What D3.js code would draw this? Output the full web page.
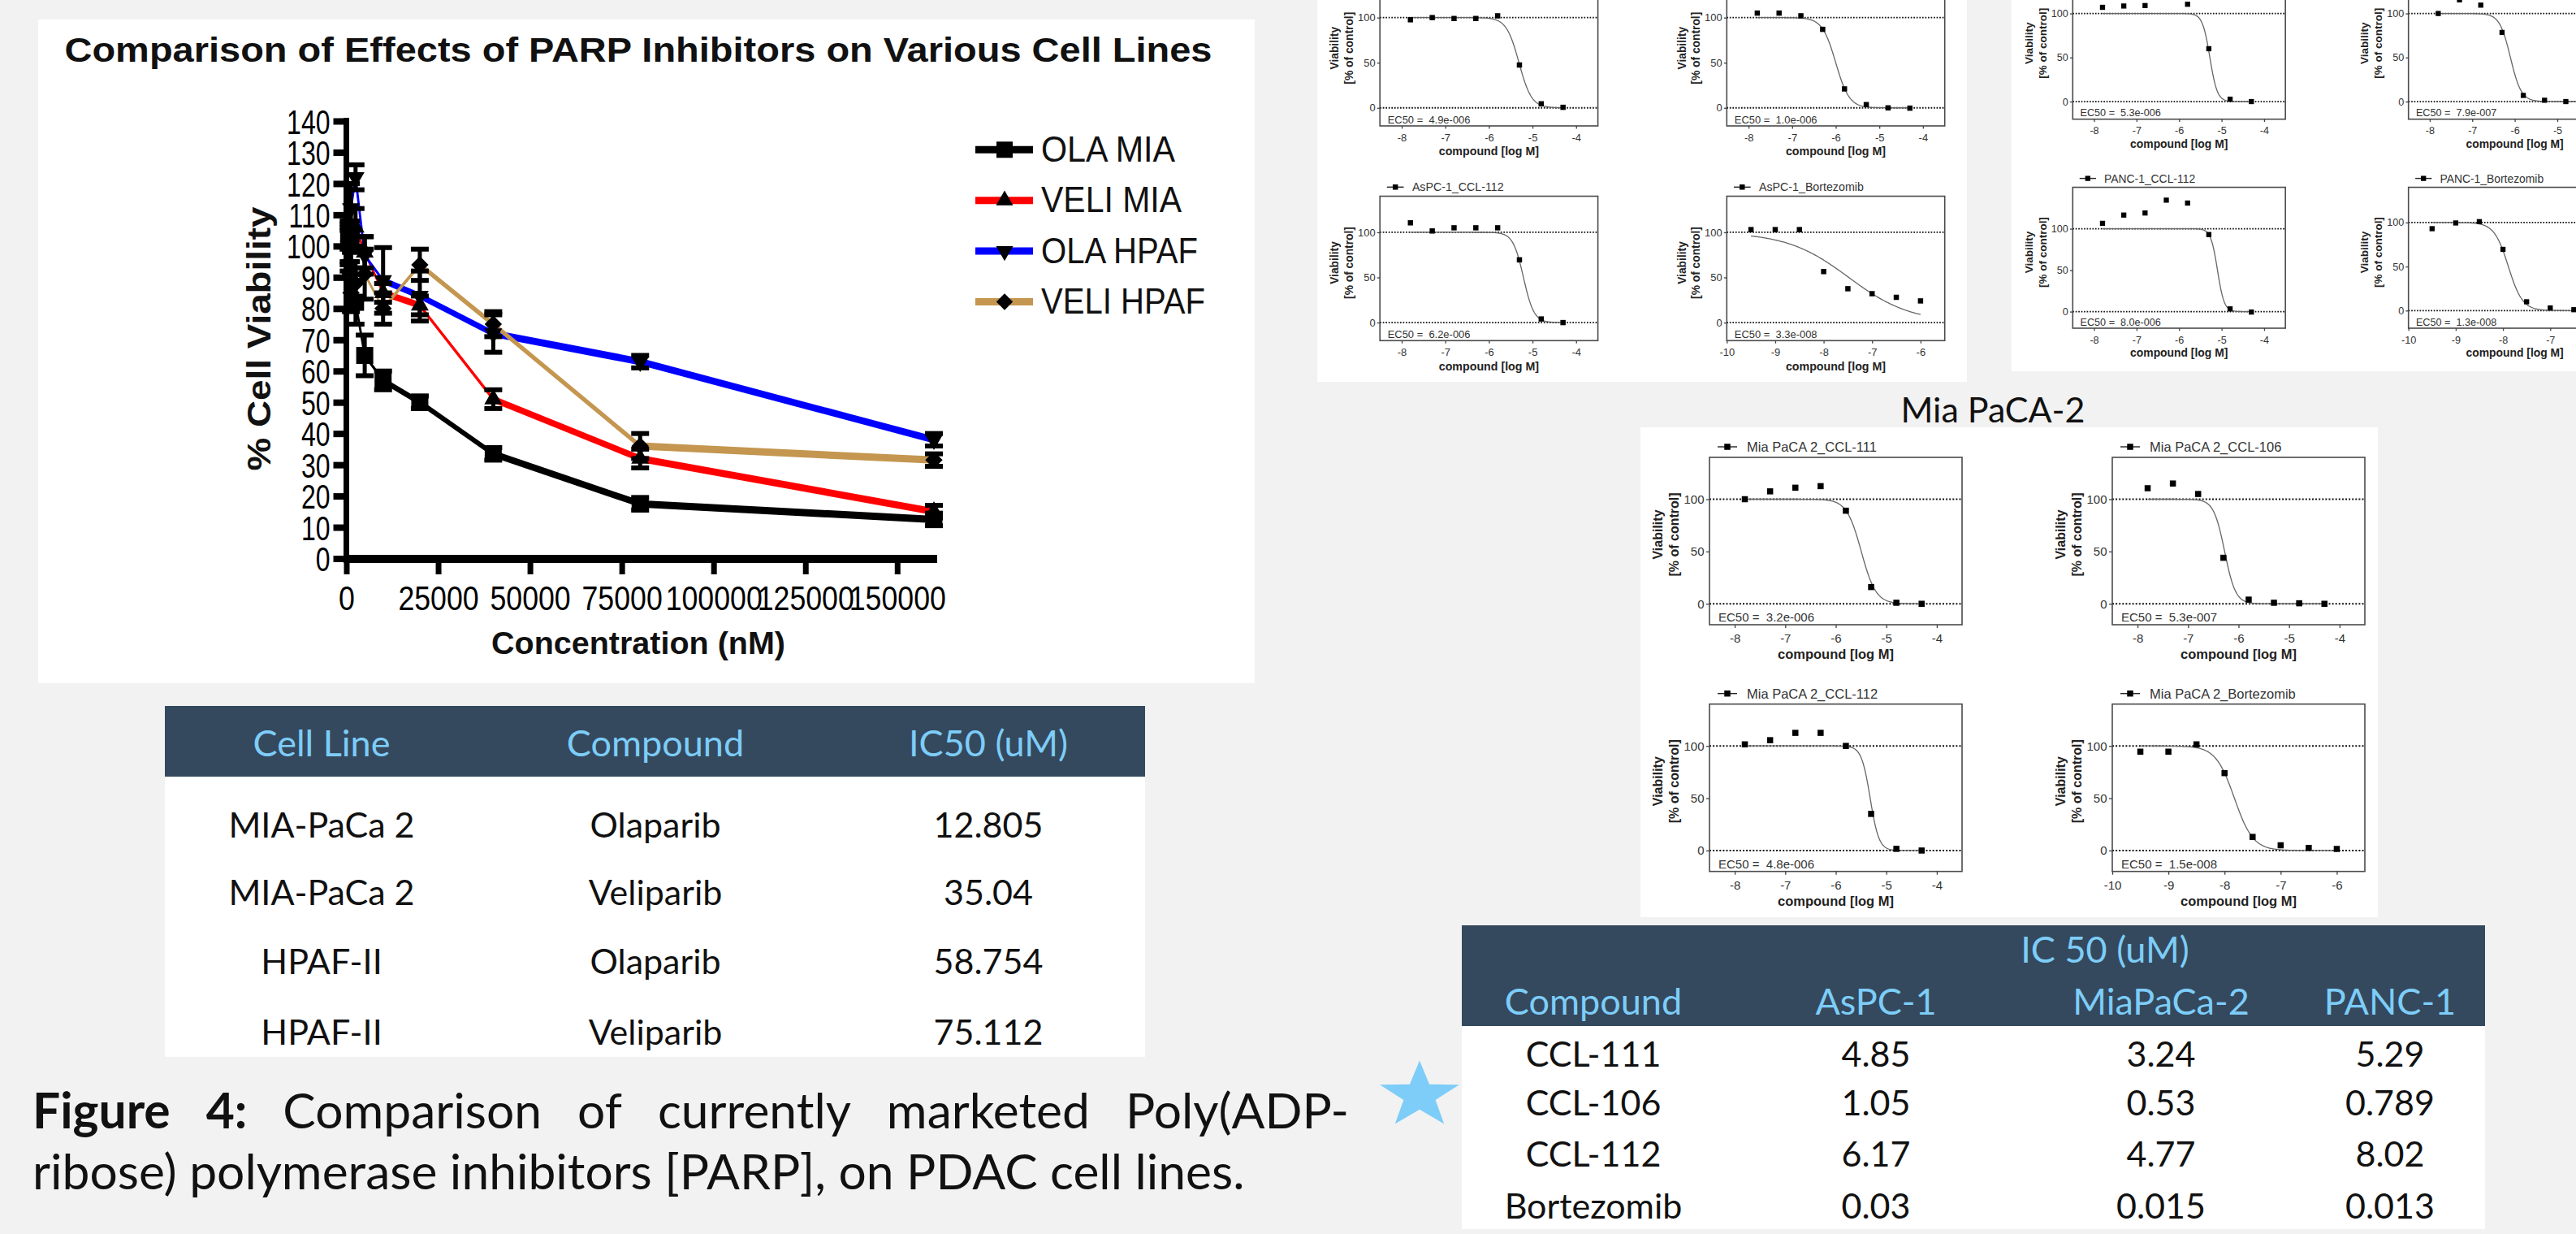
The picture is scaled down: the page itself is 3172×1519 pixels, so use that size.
<!DOCTYPE html>
<html><head><meta charset="utf-8">
<script src="https://cdn.jsdelivr.net/npm/d3@7"></script>
<style>html,body{margin:0;padding:0;background:#f2f2f2;}svg{display:block}</style>
</head><body>
<svg id="c" width="3172" height="1519"></svg>
<script>
// ================= DATA =================
// Left chart: % cell viability vs concentration (nM)
const chartTitle = "Comparison of Effects of PARP Inhibitors on Various Cell Lines";
const concentrations = [625, 1250, 2500, 5000, 10000, 20000, 40000, 80000, 160000];
const olaMIA   = [103, 100, 82, 65, 57, 50, 33.5, 17.5, 12.5];
const veliMIA  = [100, 103, 106, 98, 85, 81, 51, 32, 15];
const olaHPAF  = [100, 112, 122, 97, 89, 84, 72, 63, 38];
const veliHPAF = [100, 85, 88, 91, 80, 94, 75, 36, 31.5];
const olaMIAErr   = [4, 5, 7, 6.5, 3, 2, 2, 2, 2];
const veliMIAErr  = [5, 5, 6, 5, 3, 3, 3, 3, 2];
const olaHPAFErr  = [6, 8, 4, 6, 10.5, 8, 6, 2, 2];
const veliHPAFErr = [8, 6, 5, 8, 5, 5, 4, 4, 2];
const seriesNames = ["OLA MIA", "VELI MIA", "OLA HPAF", "VELI HPAF"];
const yTickValues = [0,10,20,30,40,50,60,70,80,90,100,110,120,130,140];
const xTickValues = [0, 25000, 50000, 75000, 100000, 125000, 150000];

// Left table
const t1Headers = ["Cell Line", "Compound", "IC50 (uM)"];
const t1CellLines = ["MIA-PaCa 2", "MIA-PaCa 2", "HPAF-II", "HPAF-II"];
const t1Compounds = ["Olaparib", "Veliparib", "Olaparib", "Veliparib"];
const t1IC50 = [12.805, 35.04, 58.754, 75.112];

// Right table
const t2Title = "IC 50 (uM)";
const t2Headers = ["Compound", "AsPC-1", "MiaPaCa-2", "PANC-1"];
const t2Compounds = ["CCL-111", "CCL-106", "CCL-112", "Bortezomib"];
const t2AsPC = [4.85, 1.05, 6.17, 0.03];
const t2Mia  = [3.24, 0.53, 4.77, 0.015];
const t2PANC = [5.29, 0.789, 8.02, 0.013];

// Dose-response panels (log M doses, % of control)
const smallCompounds = ["CCL-111", "CCL-106", "CCL-112", "Bortezomib"];
const logDoses     = [-7.8, -7.3, -6.8, -6.3, -5.8, -5.3, -4.8, -4.3];
const logDosesBort = [-9.5, -9, -8.5, -8, -7.5, -7, -6.5, -6];
const aspc111  = [97.6, 100, 99, 99, 102, 47.5, 4.5, 0.6];
const aspc106  = [105, 105, 102, 87, 21, 3.6, 0, -0.3];
const aspc112  = [110.5, 101.5, 105, 105, 105, 69.5, 4, 0];
const aspcBort = [103, 103, 103, 56.5, 37.5, 32, 28, 24];
const panc111  = [107, 108.5, 109, 120, 110.5, 60, 2.7, 0];
const panc106  = [100, 115.5, 109.5, 78.5, 7, 1.5, 0, 0];
const panc112  = [106.5, 116.5, 119, 134.5, 131, 93, 3.3, -0.5];
const pancBort = [93, 99.5, 101, 69.5, 10, 3, 1, 0.5];
const mia111   = [100, 107.5, 111, 112.5, 89, 16, 1, 0];
const mia106   = [110.5, 115, 105, 44, 4, 1, 0.5, 0];
const mia112   = [101.5, 105.5, 112.5, 112.5, 100, 35, 1.6, 0];
const miaBort  = [94.5, 94.5, 101.5, 74, 13, 5, 2.5, 1.5];
const aspcEC50 = [4.9e-6, 1.0e-6, 6.2e-6, 3.3e-8];
const pancEC50 = [5.3e-6, 7.9e-7, 8.0e-6, 1.3e-8];
const miaEC50  = [3.2e-6, 5.3e-7, 4.8e-6, 1.5e-8];
const aspcHill = [3, 2.8, 3.6, 0.68];
const pancHill = [5, 3.4, 5.5, 2.9];
const miaHill  = [3, 4, 5, 2.6];
const aspcYMax = [140, 140, 140, 140];
const pancYMax = [140, 140, 150, 140];
const miaYMax  = [140, 140, 140, 140];
const panelLabel = "Mia PaCA-2";

// Caption
const captionLine1 = [["Figure", true], ["4:", true], ["Comparison", false], ["of", false], ["currently", false], ["marketed", false], ["Poly(ADP-", false]];
const captionLine2 = "ribose) polymerase inhibitors [PARP], on PDAC cell lines.";

// ================= STYLE / LAYOUT =================
const ARIAL = "'Liberation Sans', Arial, Helvetica, sans-serif";
const LATO = "Lato, 'Noto Sans', sans-serif";
const seriesColors = ["#000000", "#ff0000", "#0000ff", "#c4964f"];
const seriesSymbols = ["square", "up", "down", "diamond"];
const HEADER_BG = "#34495e", HEADER_FG = "#7dcdf8";

const svg = d3.select("#c");
svg.append("rect").attr("width", 3172).attr("height", 1519).attr("fill", "#f2f2f2");

// white panels
const panels = [[47, 24, 1498, 817], [1622, -10, 800, 480], [2477, -10, 720, 467], [2020, 526, 908, 603]];
panels.forEach(p => svg.append("rect").attr("x", p[0]).attr("y", p[1]).attr("width", p[2]).attr("height", p[3]).attr("fill", "#ffffff"));

// ================= LEFT CHART =================
const LC = svg.append("g");
const xL = d3.scaleLinear().domain([0, 160000]).range([426.5, 1150]);
const yL = d3.scaleLinear().domain([0, 140]).range([687.5, 149]);

LC.append("text").attr("x", 786).attr("y", 76).attr("text-anchor", "middle")
  .attr("font-family", ARIAL).attr("font-weight", "bold").attr("font-size", 42)
  .attr("textLength", 1413).attr("lengthAdjust", "spacingAndGlyphs").attr("fill", "#111").text(chartTitle);

const yAx = d3.axisLeft(yL).tickValues(yTickValues).tickSize(16).tickSizeOuter(0).tickPadding(4);
const yg = LC.append("g").attr("transform", "translate(426.5,0)").call(yAx);
yg.select(".domain").remove();
yg.selectAll(".tick line").attr("stroke", "#000").attr("stroke-width", 8);
yg.selectAll(".tick text").attr("x", 0).attr("dy", "0.36em").attr("transform", "translate(-20,0) scale(0.8,1.05)")
  .attr("font-size", 40).attr("font-family", ARIAL).attr("fill", "#000");

const xAx = d3.axisBottom(xL).tickValues(xTickValues).tickSize(19).tickSizeOuter(0).tickPadding(14).tickFormat(d => String(d));
const xg = LC.append("g").attr("transform", "translate(0,688)").call(xAx);
xg.select(".domain").remove();
xg.selectAll(".tick line").attr("stroke", "#000").attr("stroke-width", 7);
xg.selectAll(".tick text").attr("transform", "scale(0.85,1)").attr("font-size", 42).attr("font-family", ARIAL).attr("fill", "#000");

LC.append("line").attr("x1", 426.5).attr("x2", 426.5).attr("y1", yL(140) - 4).attr("y2", 693).attr("stroke", "#000").attr("stroke-width", 7);
LC.append("line").attr("x1", 423).attr("x2", xL(160000) + 4).attr("y1", 688).attr("y2", 688).attr("stroke", "#000").attr("stroke-width", 10);

LC.append("text").attr("x", 786).attr("y", 805).attr("text-anchor", "middle").attr("font-family", ARIAL)
  .attr("font-weight", "bold").attr("font-size", 39).attr("textLength", 362).attr("lengthAdjust", "spacingAndGlyphs")
  .attr("fill", "#111").text("Concentration (nM)");
LC.append("text").attr("transform", "translate(333,417) rotate(-90)").attr("text-anchor", "middle").attr("font-family", ARIAL)
  .attr("font-weight", "bold").attr("font-size", 41).attr("textLength", 325).attr("lengthAdjust", "spacingAndGlyphs")
  .attr("fill", "#111").text("% Cell Viability");

const seriesValues = [olaMIA, veliMIA, olaHPAF, veliHPAF];
const seriesErrors = [olaMIAErr, veliMIAErr, olaHPAFErr, veliHPAFErr];

function markerPath(kind, s) {
  if (kind === "square") return d3.symbol(d3.symbolSquare, s * s)();
  if (kind === "diamond") return d3.symbol(d3.symbolSquare, (s * 0.72) * (s * 0.72))();
  return d3.symbol(d3.symbolTriangle, 0.433 * s * s * 1.1)();
}
function markerTransform(kind, x, y) {
  if (kind === "down") return `translate(${x},${y}) rotate(180)`;
  if (kind === "diamond") return `translate(${x},${y}) rotate(45)`;
  return `translate(${x},${y})`;
}

// lines (segment width follows slope, like the original raster)
seriesValues.forEach((vals, si) => {
  for (let i = 0; i < vals.length - 1; i++) {
    const x1 = xL(concentrations[i]), y1 = yL(vals[i]), x2 = xL(concentrations[i + 1]), y2 = yL(vals[i + 1]);
    const th = Math.atan2(Math.abs(y2 - y1), Math.abs(x2 - x1));
    const w = Math.max(2.8, 9 * Math.cos(th) * Math.cos(th));
    LC.append("line").attr("x1", x1).attr("y1", y1).attr("x2", x2).attr("y2", y2)
      .attr("stroke", seriesColors[si]).attr("stroke-width", w).attr("stroke-linecap", "round");
  }
});
// error bars + markers
seriesValues.forEach((vals, si) => {
  const g = LC.append("g");
  vals.forEach((v, i) => {
    const e = seriesErrors[si][i], cx = xL(concentrations[i]);
    g.append("line").attr("x1", cx).attr("x2", cx).attr("y1", yL(v + e)).attr("y2", yL(v - e)).attr("stroke", "#000").attr("stroke-width", 5);
    [v + e, v - e].forEach(b => g.append("line").attr("x1", cx - 11).attr("x2", cx + 11).attr("y1", yL(b)).attr("y2", yL(b)).attr("stroke", "#000").attr("stroke-width", 6));
  });
  vals.forEach((v, i) => {
    g.append("path").attr("d", markerPath(seriesSymbols[si], 21)).attr("transform", markerTransform(seriesSymbols[si], xL(concentrations[i]), yL(v))).attr("fill", "#000");
  });
});
// legend
seriesNames.forEach((nm, i) => {
  const cy = 184.3 + i * 62.4;
  const lw = [165, 173, 193, 202][i];
  LC.append("line").attr("x1", 1201).attr("x2", 1272).attr("y1", cy).attr("y2", cy).attr("stroke", seriesColors[i]).attr("stroke-width", 9);
  LC.append("path").attr("d", markerPath(seriesSymbols[i], 20)).attr("transform", markerTransform(seriesSymbols[i], 1237, cy)).attr("fill", "#000");
  LC.append("text").attr("x", 1282).attr("y", cy + 14.5).attr("font-family", ARIAL).attr("font-size", 44)
    .attr("textLength", lw).attr("lengthAdjust", "spacingAndGlyphs").attr("fill", "#111").text(nm);
});

// ================= SMALL DOSE-RESPONSE PLOTS =================
function fmtEC(v) {
  const s = v.toExponential(1);
  const [m, e] = s.split("e");
  const neg = e[0] === "-";
  const digits = e.replace(/[-+]/, "").padStart(3, "0");
  return `EC50 =\u00a0\u00a0${m}e${neg ? "-" : ""}${digits}`;
}
function drawSmall(title, doses, values, ec50, hill, yMax, L, B, k) {
  const W = 311 * k, H = 206 * k, T = B - H;
  const isBort = doses[0] < -9;
  const xDom = isBort ? [-10, -5.5] : [-8.5, -3.5];
  const xTicks = isBort ? [-10, -9, -8, -7, -6] : [-8, -7, -6, -5, -4];
  const x = d3.scaleLinear().domain(xDom).range([L, L + W]);
  const y = d3.scaleLinear().domain([-20, yMax]).range([B, T]);
  const g = svg.append("g").attr("font-family", ARIAL);
  [0, 100].forEach(v => g.append("line").attr("x1", L).attr("x2", L + W).attr("y1", y(v)).attr("y2", y(v))
    .attr("stroke", "#111").attr("stroke-width", 2.1 * k).attr("stroke-dasharray", `${2 * k} ${2.1 * k}`));
  const lo = d3.min(doses), hi = d3.max(doses);
  const xs = d3.range(0, 241).map(i => lo + (hi - lo) * i / 240);
  const lec = Math.log10(ec50);
  const f = v => 100 / (1 + Math.pow(10, (v - lec) * hill));
  g.append("path").attr("d", d3.line().x(v => x(v)).y(v => y(f(v)))(xs)).attr("fill", "none").attr("stroke", "#666").attr("stroke-width", 1.3);
  g.append("rect").attr("x", L).attr("y", T).attr("width", W).attr("height", H).attr("fill", "none").attr("stroke", "#4a4a4a").attr("stroke-width", 1.6);
  const ya = d3.axisLeft(y).tickValues([0, 50, 100]).tickSize(4 * k).tickPadding(2.5 * k).tickSizeOuter(0);
  const yg = g.append("g").attr("transform", `translate(${L},0)`).call(ya);
  yg.select(".domain").remove();
  yg.selectAll("line").attr("stroke", "#444").attr("stroke-width", 1.3);
  yg.selectAll("text").attr("font-size", 15 * k).attr("font-family", ARIAL).attr("fill", "#333");
  const xa = d3.axisBottom(x).tickValues(xTicks).tickSize(4 * k).tickPadding(7.5 * k).tickSizeOuter(0).tickFormat(d => String(d));
  const xg = g.append("g").attr("transform", `translate(0,${B})`).call(xa);
  xg.select(".domain").remove();
  xg.selectAll("line").attr("stroke", "#444").attr("stroke-width", 1.3);
  xg.selectAll("text").attr("font-size", 15 * k).attr("font-family", ARIAL).attr("fill", "#333");
  const s = 7.5 * k;
  values.forEach((v, i) => g.append("rect").attr("x", x(doses[i]) - s / 2).attr("y", y(v) - s / 2).attr("width", s).attr("height", s).attr("fill", "#000"));
  // legend title (only when it lies inside the picture, as in the reference)
  const ty = T - 7 * k;
  if (ty - 14 * k > 0) {
    g.append("line").attr("x1", L + 10 * k).attr("x2", L + 34 * k).attr("y1", ty - 6 * k).attr("y2", ty - 6 * k).attr("stroke", "#222").attr("stroke-width", 1.4);
    g.append("rect").attr("x", L + 22 * k - s / 2).attr("y", ty - 6 * k - s / 2).attr("width", s).attr("height", s).attr("fill", "#000");
    g.append("text").attr("x", L + 46 * k).attr("y", ty).attr("font-size", 16.5 * k).attr("fill", "#333").text(title);
  }
  g.append("text").attr("x", L + 11 * k).attr("y", B - 4 * k).attr("font-size", 15 * k).attr("fill", "#333").text(fmtEC(ec50));
  g.append("text").attr("x", L + W / 2).attr("y", B + 42 * k).attr("text-anchor", "middle").attr("font-weight", "bold")
    .attr("font-size", 16.5 * k).attr("fill", "#222").text("compound [log M]");
  const cy = (T + B) / 2 - 8 * k;
  [["Viability", -64], ["[% of control]", -44]].forEach(([t, dx]) => {
    g.append("text").attr("transform", `translate(${L + dx * k},${cy}) rotate(-90)`).attr("text-anchor", "middle")
      .attr("dominant-baseline", "central").attr("font-weight", "bold").attr("font-size", 16 * k).attr("fill", "#222").text(t);
  });
}
const groups = [
  { prefix: "AsPC-1_", vals: [aspc111, aspc106, aspc112, aspcBort], ec: aspcEC50, hill: aspcHill, ymax: aspcYMax, k: 0.863, lefts: [1699.2, 2126.3], bottoms: [155, 419.3] },
  { prefix: "PANC-1_", vals: [panc111, panc106, panc112, pancBort], ec: pancEC50, hill: pancHill, ymax: pancYMax, k: 0.842, lefts: [2552.3, 2965.7], bottoms: [146.7, 404] },
  { prefix: "Mia PaCA 2_", vals: [mia111, mia106, mia112, miaBort], ec: miaEC50, hill: miaHill, ymax: miaYMax, k: 1, lefts: [2105, 2601], bottoms: [769, 1072.7] }
];
groups.forEach(gr => {
  smallCompounds.forEach((c, i) => {
    const doses = c === "Bortezomib" ? logDosesBort : logDoses;
    drawSmall(gr.prefix + c, doses, gr.vals[i], gr.ec[i], gr.hill[i], gr.ymax[i], gr.lefts[i % 2], gr.bottoms[Math.floor(i / 2)], gr.k);
  });
});
svg.append("text").attr("x", 2454).attr("y", 520).attr("text-anchor", "middle").attr("font-family", LATO)
  .attr("font-size", 43).attr("fill", "#111").text(panelLabel);

// ================= LEFT TABLE =================
const T1 = svg.append("g").attr("font-family", LATO);
T1.append("rect").attr("x", 203).attr("y", 869).attr("width", 1207).attr("height", 87).attr("fill", HEADER_BG);
T1.append("rect").attr("x", 203).attr("y", 956).attr("width", 1207).attr("height", 345).attr("fill", "#fff");
const t1Cols = [396, 807, 1217];
t1Headers.forEach((h, i) => T1.append("text").attr("x", t1Cols[i]).attr("y", 931).attr("text-anchor", "middle")
  .attr("font-size", 45).attr("fill", HEADER_FG).text(h));
const t1Rows = [1031, 1114, 1199, 1286];
t1CellLines.forEach((c, r) => {
  [c, t1Compounds[r], String(t1IC50[r])].forEach((t, i) => T1.append("text").attr("x", t1Cols[i]).attr("y", t1Rows[r])
    .attr("text-anchor", "middle").attr("font-size", 43).attr("fill", "#111").text(t));
});

// ================= RIGHT TABLE =================
const T2 = svg.append("g").attr("font-family", LATO);
T2.append("rect").attr("x", 1800).attr("y", 1139).attr("width", 1260).attr("height", 124).attr("fill", HEADER_BG);
T2.append("rect").attr("x", 1800).attr("y", 1263).attr("width", 1260).attr("height", 250).attr("fill", "#fff");
const t2Cols = [1962, 2310, 2661, 2943];
T2.append("text").attr("x", 2592).attr("y", 1185).attr("text-anchor", "middle").attr("font-size", 45).attr("fill", HEADER_FG).text(t2Title);
t2Headers.forEach((h, i) => T2.append("text").attr("x", t2Cols[i]).attr("y", 1249).attr("text-anchor", "middle")
  .attr("font-size", 45).attr("fill", HEADER_FG).text(h));
const t2Rows = [1313, 1373, 1436, 1500];
t2Compounds.forEach((c, r) => {
  [c, String(t2AsPC[r]), String(t2Mia[r]), String(t2PANC[r])].forEach((t, i) => T2.append("text").attr("x", t2Cols[i]).attr("y", t2Rows[r])
    .attr("text-anchor", "middle").attr("font-size", 43).attr("fill", "#111").text(t));
});

// ================= STAR =================
const starPts = d3.range(10).map(i => {
  const a = (-90 + i * 36) * Math.PI / 180, r = i % 2 === 0 ? 1 : 0.4;
  return [1748 + r * 51.5 * Math.cos(a), 1348.6 + r * 43 * Math.sin(a)];
});
svg.append("path").attr("d", "M" + starPts.map(p => p.join(",")).join("L") + "Z").attr("fill", HEADER_FG);

// ================= CAPTION =================
const CAP = svg.append("g").attr("font-family", LATO).attr("fill", "#111");
let fs = 58;
const l2 = CAP.append("text").attr("x", 40).attr("y", 1464).attr("font-size", fs).text(captionLine2);
const w2 = l2.node().getComputedTextLength();
if (w2 > 0) { fs = fs * 1493 / w2; l2.attr("font-size", fs); }
const words = captionLine1.map(([w, b]) => CAP.append("text").attr("y", 1389).attr("font-size", fs).attr("font-weight", b ? "bold" : "normal").text(w));
const widths = words.map(t => t.node().getComputedTextLength());
const gap = (1661 - 40 - d3.sum(widths)) / (words.length - 1);
let cx = 40;
words.forEach((t, i) => { t.attr("x", cx); cx += widths[i] + gap; });
</script>
</body></html>
